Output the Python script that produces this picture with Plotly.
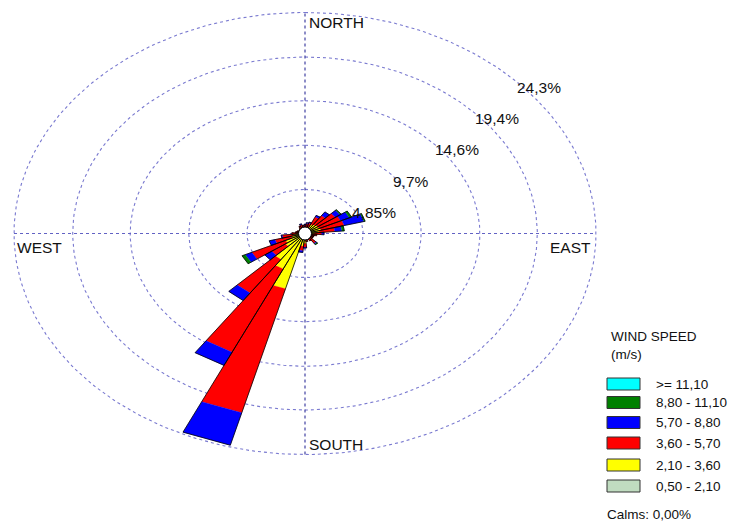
import numpy as np
import plotly.graph_objects as go

# ---- data -----------------------------------------------------------------
directions = list(range(0, 360, 10))          # sector centre, degrees from north

# frequency (%) per speed class, one value per direction sector
spd_050_210 = [0.2] * 36
spd_210_360 = [0.3, 0.4, 0.5, 0.9, 1.0, 1.1, 1.1, 1.2, 1.0, 0.6, 0.4, 0.3,
               0.3, 0.3, 0.4, 0.3, 0.3, 0.4, 0.9, 1.2, 6.1, 4.1, 3.3, 1.8,
               1.6, 1.0, 0.8, 0.5, 0.4, 0.3, 0.2, 0.2, 0.3, 0.3, 0.3, 0.3]
spd_360_570 = [0.4, 0.5, 0.5, 0.9, 1.2, 1.8, 2.0, 2.0, 1.3, 0.6, 0.4, 0.3,
               0.3, 0.3, 0.7, 0.4, 0.2, 0.3, 0.4, 0.5, 14.1, 10.1, 4.5, 1.4,
               3.1, 1.4, 0.9, 0.4, 0.2, 0.2, 0.2, 0.2, 0.2, 0.4, 0.5, 0.4]
spd_570_880 = [0.1, 0.1, 0.1, 0.2, 0.5, 0.5, 0.8, 1.7, 0.6, 0.2, 0.0, 0.0,
               0.0, 0.0, 0.1, 0.0, 0.0, 0.0, 0.1, 0.2, 3.7, 1.6, 1.0, 0.7,
               0.6, 0.5, 0.1, 0.0, 0.0, 0.0, 0.0, 0.0, 0.0, 0.0, 0.1, 0.0]
spd_880_1110 = [0.0, 0.0, 0.0, 0.0, 0.0, 0.1, 0.2, 0.1, 0.2, 0.0, 0.0, 0.0,
                0.0, 0.0, 0.1, 0.0, 0.0, 0.0, 0.0, 0.0, 0.0, 0.0, 0.0, 0.0,
                0.3, 0.0, 0.0, 0.0, 0.0, 0.0, 0.0, 0.0, 0.0, 0.0, 0.0, 0.0]
spd_ge_1110 = [0.0] * 36

class_labels = [">= 11,10", "8,80 - 11,10", "5,70 - 8,80",
                "3,60 - 5,70", "2,10 - 3,60", "0,50 - 2,10"]
class_colors = ["#00ffff", "#008000", "#0000ff", "#ff0000", "#ffff00", "#c0dcc0"]

ring_values = [4.85, 9.7, 14.6, 19.4, 24.3]
ring_labels = ["4,85%", "9,7%", "14,6%", "19,4%", "24,3%"]
calms_text = "Calms: 0,00%"

# ---- geometry helpers -------------------------------------------------------
SECTOR = 10.0
FONT = "Liberation Sans, Arial, sans-serif"


def xy(r, bearing_deg):
    a = np.radians(bearing_deg)
    return r * np.sin(a), r * np.cos(a)


def segment(r0, r1, d):
    a0, a1 = d - SECTOR / 2, d + SECTOR / 2
    pts = [xy(r0, a0), xy(r1, a0), xy(r1, a1), xy(r0, a1), xy(r0, a0)]
    return [p[0] for p in pts], [p[1] for p in pts]


fig = go.Figure()

rmax = ring_values[-1]
theta = np.linspace(0, 360, 361)

# dotted rings
for rv in ring_values:
    ex, ey = xy(rv, theta)
    fig.add_trace(go.Scatter(x=ex, y=ey, mode="lines", hoverinfo="skip",
                             line=dict(color="#7a7ad0", width=1.1, dash="dot")))

# dotted compass axes
fig.add_trace(go.Scatter(x=[-rmax, rmax], y=[0, 0], mode="lines", hoverinfo="skip",
                         line=dict(color="#6262c4", width=1.1, dash="dot")))
fig.add_trace(go.Scatter(x=[0, 0], y=[-rmax, rmax], mode="lines", hoverinfo="skip",
                         line=dict(color="#30309a", width=1.1, dash="dot")))

# stacked sectors, calmest class innermost
stack = [spd_050_210, spd_210_360, spd_360_570, spd_570_880, spd_880_1110, spd_ge_1110]
stack_colors = class_colors[::-1]
base = np.zeros(len(directions))
for vals, col in zip(stack, stack_colors):
    xs, ys = [], []
    for i, d in enumerate(directions):
        if vals[i] <= 0:
            continue
        sx, sy = segment(base[i], base[i] + vals[i], d)
        xs += sx + [None]
        ys += sy + [None]
    base = base + np.array(vals)
    if xs:
        fig.add_trace(go.Scatter(x=xs, y=ys, mode="lines", fill="toself",
                                 fillcolor=col, hoverinfo="skip",
                                 line=dict(color=col, width=0.3)))

# black outline around each whole sector
ox, oy = [], []
for i, d in enumerate(directions):
    sx, sy = segment(0, base[i], d)
    ox += sx + [None]
    oy += sy + [None]
fig.add_trace(go.Scatter(x=ox, y=oy, mode="lines", hoverinfo="skip",
                         line=dict(color="#000000", width=0.8)))

# calm circle at the centre
fig.add_shape(type="circle", xref="x", yref="y", xsizemode="pixel", ysizemode="pixel",
              xanchor=0, yanchor=0, x0=-6.5, x1=6.5, y0=-6.5, y1=6.5,
              fillcolor="white", line=dict(color="black", width=1))

# ring labels
for rv, lab in zip(ring_values, ring_labels):
    lx, ly = xy(rv, 45)
    fig.add_annotation(x=lx, y=ly, text=lab, showarrow=False, xanchor="left",
                       yanchor="middle", xshift=4, yshift=-10,
                       font=dict(family=FONT, size=15.5, color="#111111"))

# compass labels
comp = dict(family=FONT, size=15.5, color="#111111")
fig.add_annotation(x=0, y=rmax, text="NORTH", showarrow=False, xanchor="left",
                   yanchor="top", xshift=2, yshift=0, font=comp)
fig.add_annotation(x=0, y=-rmax, text="SOUTH", showarrow=False, xanchor="left",
                   yanchor="bottom", xshift=2, yshift=0, font=comp)
fig.add_annotation(x=-rmax, y=0, text="WEST", showarrow=False, xanchor="left",
                   yanchor="top", xshift=1, yshift=-3, font=comp)
fig.add_annotation(x=rmax, y=0, text="EAST", showarrow=False, xanchor="right",
                   yanchor="top", xshift=-3, yshift=-3, font=comp)

# ---- legend (drawn in paper coordinates) ----------------------------------
W, H = 744, 522


def px(x):
    return x / W


def py(y):
    return 1 - y / H


leg_font = dict(family=FONT, size=13.5, color="#111111")
fig.add_annotation(xref="paper", yref="paper", x=px(610), y=py(336.5), text="WIND SPEED",
                   showarrow=False, xanchor="left", yanchor="middle", borderpad=0,
                   font=dict(family=FONT, size=13.5, color="#111111"))
fig.add_annotation(xref="paper", yref="paper", x=px(610), y=py(354), text="(m/s)",
                   showarrow=False, xanchor="left", yanchor="middle", borderpad=0,
                   font=dict(family=FONT, size=13.5, color="#111111"))

row_y = [384, 402.5, 422.5, 443, 465, 486]
for yc, lab, col in zip(row_y, class_labels, class_colors):
    fig.add_shape(type="rect", xref="paper", yref="paper",
                  x0=px(607), x1=px(640), y0=py(yc - 6), y1=py(yc + 6),
                  fillcolor=col, line=dict(color="#333333", width=1))
    fig.add_annotation(xref="paper", yref="paper", x=px(654), y=py(yc), text=lab,
                       showarrow=False, xanchor="left", yanchor="middle", font=leg_font)

fig.add_annotation(xref="paper", yref="paper", x=px(605), y=py(514.5), text=calms_text,
                   showarrow=False, xanchor="left", yanchor="middle", font=leg_font)

# ---- layout -----------------------------------------------------------------
cx, cy = 305, 233.5           # rose centre in pixels
sx, sy = 11.975, 9.095        # pixels per percent horizontally / vertically
fig.update_layout(
    width=W, height=H,
    margin=dict(l=0, r=0, t=0, b=0),
    paper_bgcolor="white", plot_bgcolor="white",
    showlegend=False,
    xaxis=dict(range=[-cx / sx, (W - cx) / sx], visible=False, fixedrange=True),
    yaxis=dict(range=[-(H - cy) / sy, cy / sy], visible=False, fixedrange=True),
)

fig.write_html("out.html")
